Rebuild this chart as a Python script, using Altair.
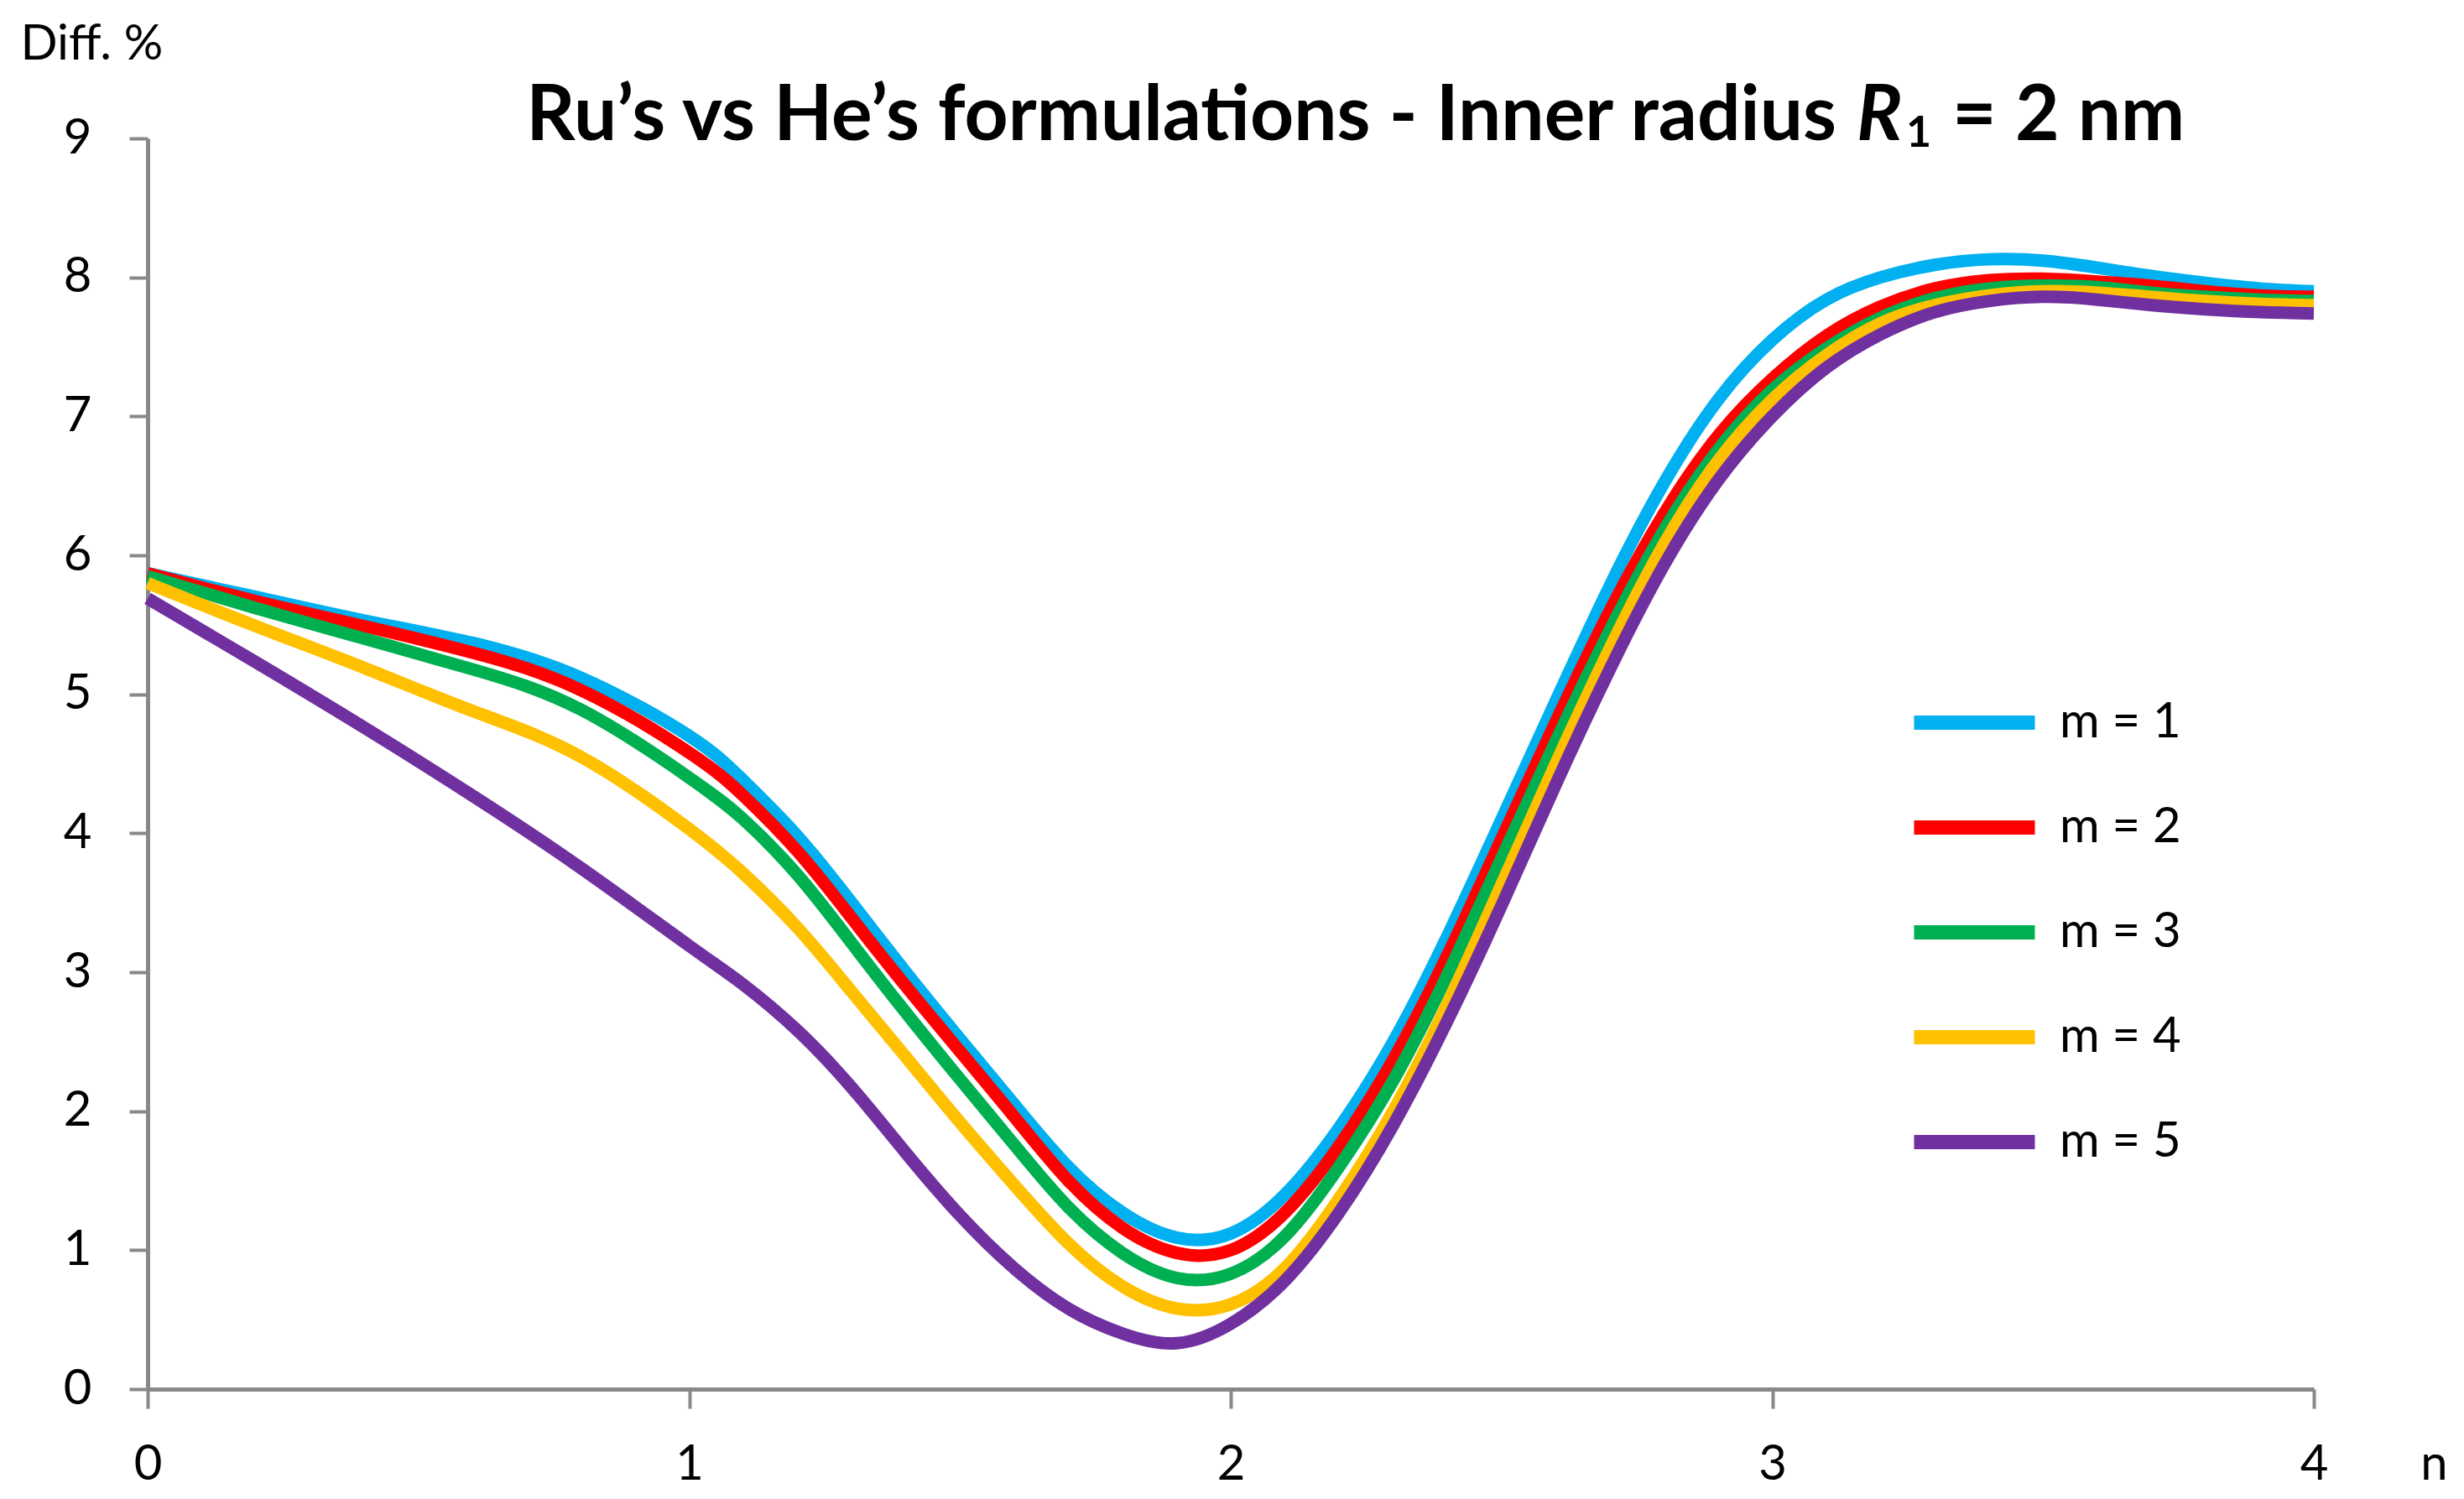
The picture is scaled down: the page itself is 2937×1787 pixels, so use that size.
import altair as alt
import pandas as pd

# ---- data ----
N = [0.0, 0.2, 0.4, 0.6, 0.8, 1.0, 1.1, 1.2, 1.3, 1.4, 1.5, 1.6, 1.7, 1.8, 1.9, 2.0,
     2.1, 2.2, 2.3, 2.4, 2.5, 2.6, 2.7, 2.8, 2.9, 3.0, 3.1, 3.2, 3.3, 3.4, 3.5, 3.6,
     3.7, 3.8, 3.9, 4.0]

M1 = [5.87, 5.70, 5.53, 5.37, 5.12, 4.70, 4.38, 3.98, 3.50, 3.00, 2.52, 2.05, 1.60, 1.27, 1.09, 1.12,
      1.40, 1.88, 2.50, 3.26, 4.10, 4.95, 5.78, 6.52, 7.12, 7.55, 7.84, 8.00, 8.09, 8.13, 8.12, 8.07,
      8.01, 7.96, 7.92, 7.90]
M2 = [5.87, 5.67, 5.49, 5.30, 5.03, 4.58, 4.27, 3.87, 3.39, 2.90, 2.43, 1.96, 1.50, 1.16, 0.98, 1.00,
      1.27, 1.75, 2.37, 3.12, 3.96, 4.80, 5.60, 6.30, 6.86, 7.27, 7.58, 7.79, 7.92, 7.98, 7.99, 7.97,
      7.94, 7.90, 7.87, 7.86]
M3 = [5.85, 5.62, 5.40, 5.18, 4.89, 4.40, 4.10, 3.70, 3.21, 2.71, 2.23, 1.76, 1.31, 0.98, 0.80, 0.83,
      1.10, 1.60, 2.22, 2.98, 3.82, 4.66, 5.46, 6.18, 6.76, 7.19, 7.49, 7.71, 7.85, 7.92, 7.94, 7.93,
      7.89, 7.86, 7.84, 7.83]
M4 = [5.80, 5.49, 5.19, 4.88, 4.55, 4.03, 3.71, 3.32, 2.86, 2.39, 1.92, 1.47, 1.05, 0.74, 0.58, 0.61,
      0.87, 1.37, 2.00, 2.77, 3.63, 4.50, 5.33, 6.08, 6.68, 7.12, 7.44, 7.67, 7.80, 7.87, 7.90, 7.89,
      7.86, 7.83, 7.81, 7.80]
M5 = [5.69, 5.23, 4.76, 4.27, 3.75, 3.19, 2.91, 2.58, 2.17, 1.70, 1.25, 0.87, 0.58, 0.40, 0.33, 0.47,
      0.78, 1.27, 1.90, 2.65, 3.48, 4.35, 5.18, 5.93, 6.54, 7.00, 7.35, 7.59, 7.75, 7.83, 7.86, 7.84,
      7.80, 7.77, 7.75, 7.74]

SERIES = ["m = 1", "m = 2", "m = 3", "m = 4", "m = 5"]
COLORS = ["#00B0F0", "#FF0000", "#00B050", "#FFC000", "#7030A0"]
X_TICKS = [0, 1, 2, 3, 4]
Y_TICKS = [0, 1, 2, 3, 4, 5, 6, 7, 8, 9]

TITLE_LEFT = "Ru\u2019s vs He\u2019s formulations - Inner radius"
TITLE_R = "R"
TITLE_SUB = "1"
TITLE_RIGHT = "= 2 nm"

rows = []
for name, vals in zip(SERIES, [M1, M2, M3, M4, M5]):
    for n, v in zip(N, vals):
        rows.append({"n": n, "v": v, "m": name})
df = pd.DataFrame(rows)

FONT = "Lato"
GREY = "#888888"

lines = alt.Chart(df).mark_line(interpolate="natural", strokeWidth=15).encode(
    x=alt.X("n:Q",
            scale=alt.Scale(domain=[0, 4], nice=False, zero=False),
            axis=alt.Axis(values=X_TICKS, grid=False, tickSize=23, tickWidth=4,
                          tickColor=GREY, domainColor=GREY, domainWidth=5,
                          labelFont=FONT, labelFontSize=58, labelColor="black",
                          labelBaseline="alphabetic", labelPadding=84,
                          labelFlush=False, labelOverlap=False, format="d",
                          title="n", titleX=2725, titleY=107, titleAlign="center",
                          titleBaseline="alphabetic", titleFont=FONT, titleFontSize=58,
                          titleFontWeight="normal", titleColor="black")),
    y=alt.Y("v:Q",
            scale=alt.Scale(domain=[0, 9], nice=False, zero=False),
            axis=alt.Axis(values=Y_TICKS, grid=False, tickSize=22, tickWidth=4,
                          tickColor=GREY, domainColor=GREY, domainWidth=5,
                          labelFont=FONT, labelFontSize=58, labelColor="black",
                          labelPadding=45, labelFlush=False, labelOverlap=False, format="d",
                          title="Diff. %", titleAngle=0, titleX=-152, titleY=-95,
                          titleAlign="left", titleBaseline="alphabetic", titleFont=FONT,
                          titleFontSize=58, titleFontWeight="normal", titleColor="black")),
    color=alt.Color("m:N",
                    scale=alt.Scale(domain=SERIES, range=COLORS),
                    legend=alt.Legend(title=None, orient="none", legendX=2133, legendY=652,
                                      symbolType="M-2,0H2", symbolSize=5184,
                                      symbolStrokeWidth=17, labelFont=FONT,
                                      labelFontSize=58, labelColor="black",
                                      labelLimit=400, rowPadding=46, labelOffset=57,
                                      padding=0)),
)

def title_piece(text, x, y, size, align, italic=False):
    return alt.Chart(pd.DataFrame({"t": [text]})).mark_text(
        font=FONT, fontSize=size, fontWeight="bold",
        fontStyle="italic" if italic else "normal",
        align=align, baseline="alphabetic", color="black",
    ).encode(x=alt.value(x), y=alt.value(y), text="t:N")

t1 = title_piece(TITLE_LEFT, 2013, 2, 91, "right")
t2 = title_piece(TITLE_R, 2037, 2, 91, "left", italic=True)
t3 = title_piece(TITLE_SUB, 2096, 10, 52, "left")
t4 = title_piece(TITLE_RIGHT, 2151, 2, 91, "left")

chart = alt.layer(lines, t1, t2, t3, t4).properties(
    width=2582, height=1491,
    padding={"left": 168, "top": 157, "right": 160, "bottom": 121},
    autosize=alt.AutoSizeParams(type="none"),
    background="white",
).configure_view(stroke=None)

chart.save("out.html", embed_options={"renderer": "svg", "actions": False})
